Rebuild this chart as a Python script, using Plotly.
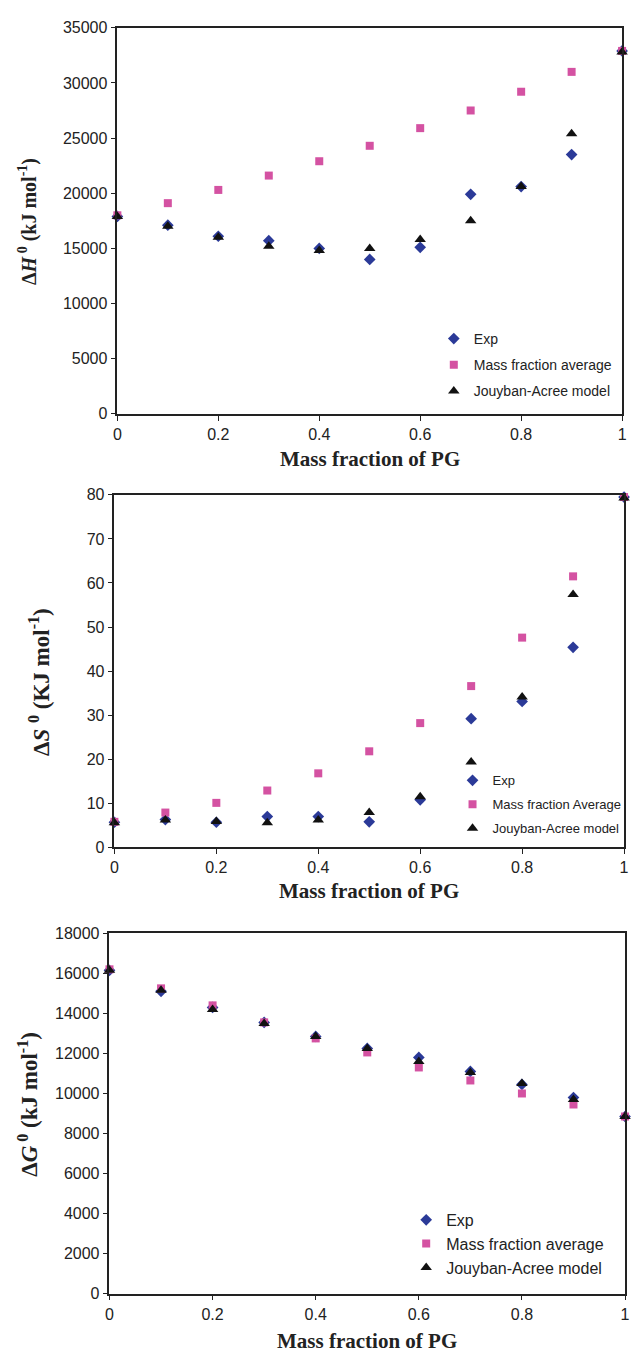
import plotly.graph_objects as go

W, H = 633, 1360

x_frac = [0, 0.1, 0.2, 0.3, 0.4, 0.5, 0.6, 0.7, 0.8, 0.9, 1.0]

# Chart 1: Delta H
dH_exp = [17900, 17100, 16100, 15700, 15000, 14000, 15100, 19900, 20600, 23500, 32900]
dH_mfa = [18000, 19100, 20300, 21600, 22900, 24300, 25900, 27500, 29200, 31000, 32900]
dH_ja = [17900, 17000, 16000, 15200, 14800, 15000, 15800, 17500, 20600, 25400, 32800]

# Chart 2: Delta S
dS_exp = [5.7, 6.3, 5.7, 7.0, 7.0, 5.8, 10.8, 29.2, 33.1, 45.4, 79.5]
dS_mfa = [5.8, 7.9, 10.1, 12.9, 16.8, 21.8, 28.2, 36.6, 47.6, 61.5, 79.5]
dS_ja = [5.6, 6.2, 5.9, 5.6, 6.2, 7.9, 11.5, 19.4, 34.1, 57.4, 79.3]

# Chart 3: Delta G
dG_exp = [16150, 15100, 14300, 13550, 12850, 12250, 11800, 11100, 10450, 9800, 8850]
dG_mfa = [16200, 15250, 14400, 13550, 12750, 12050, 11300, 10650, 10000, 9450, 8850]
dG_ja = [16150, 15150, 14200, 13500, 12850, 12250, 11600, 11050, 10500, 9700, 8850]

legend_names_1 = ["Exp", "Mass fraction average", "Jouyban-Acree model"]
legend_names_2 = ["Exp", "Mass fraction Average", "Jouyban-Acree model"]
legend_names_3 = ["Exp", "Mass fraction average", "Jouyban-Acree model"]

BLUE = "#2B3A98"
PINK = "#D452A2"
BLACK = "#111111"
SANS = "Liberation Sans, Arial, sans-serif"
SERIF = "Liberation Serif, Times New Roman, serif"
AX = "#222222"

fig = go.Figure()

def add_set(idx, ys, names, leg):
    sfx = "" if idx == 1 else str(idx)
    styles = [("diamond", 9, BLUE), ("square", 8, PINK), ("triangle-up", 10, BLACK)]
    for k, (y, nm, (sym, sz, col)) in enumerate(zip(ys, names, styles)):
        fig.add_trace(go.Scatter(
            x=x_frac, y=y, mode="markers", name=nm,
            marker=dict(symbol=sym, size=sz, color=col, line=dict(width=0)),
            xaxis="x" + sfx, yaxis="y" + sfx, legend=leg,
            legendgroup=f"g{idx}_{k}", cliponaxis=False, showlegend=True,
        ))

add_set(1, [dH_exp, dH_mfa, dH_ja], legend_names_1, "legend")
add_set(2, [dS_exp, dS_mfa, dS_ja], legend_names_2, "legend2")
add_set(3, [dG_exp, dG_mfa, dG_ja], legend_names_3, "legend3")

def px_x(p):
    return p / W

def px_y(p):
    return 1 - p / H

def xaxis(left, right, anchor):
    return dict(domain=[px_x(left), px_x(right)], range=[0, 1], dtick=0.2, tick0=0,
                showline=True, linecolor=AX, linewidth=1.5, mirror=True,
                ticks="outside", ticklen=5, tickcolor=AX, tickwidth=1.2,
                showgrid=False, zeroline=False, anchor=anchor,
                tickfont=dict(family=SANS, size=16, color=AX))

def yaxis(top, bottom, rng, dt, anchor):
    return dict(domain=[px_y(bottom), px_y(top)], range=rng, dtick=dt, tick0=0,
                showline=True, linecolor=AX, linewidth=1.5, mirror=True,
                ticks="outside", ticklen=5, tickcolor=AX, tickwidth=1.2,
                showgrid=False, zeroline=False, anchor=anchor, tickformat="d",
                tickfont=dict(family=SANS, size=16, color=AX))

def legend(xp, yp, size, gap):
    return dict(x=px_x(xp), y=px_y(yp), xanchor="left", yanchor="top",
                bgcolor="rgba(0,0,0,0)", borderwidth=0, tracegroupgap=gap,
                font=dict(family=SANS, size=size, color=AX))

fig.update_layout(
    width=W, height=H, margin=dict(l=0, r=0, t=0, b=0),
    paper_bgcolor="white", plot_bgcolor="white",
    xaxis=xaxis(115, 627, "y"), yaxis=yaxis(20, 411, [0, 35000], 5000, "x"),
    xaxis2=xaxis(112, 629, "y2"), yaxis2=yaxis(493, 850, [0, 80], 10, "x2"),
    xaxis3=xaxis(107, 630, "y3"), yaxis3=yaxis(937, 1302, [0, 18000], 2000, "x3"),
    legend=legend(436, 319, 14, 5),
    legend2=legend(455, 767, 13, 4),
    legend3=legend(408, 1210, 16, 0),
)

annots = [
    ("Mass fraction of PG", 371, 457, 0, 21),
    ("Mass fraction of PG", 370, 894, 0, 21),
    ("Mass fraction of PG", 368, 1350, 0, 21),
    ("Δ<i>H</i><sup> 0</sup> (kJ mol<sup>-1</sup>)", 24, 216, -90, 20),
    ("Δ<i>S</i> <sup>0</sup> (KJ mol<sup>-1</sup>)", 36, 682, -90, 23),
    ("Δ<i>G</i><sup> 0</sup> (kJ mol<sup>-1</sup>)", 24, 1110, -90, 23),
]
for txt, xp, yp, ang, sz in annots:
    fig.add_annotation(text="<b>" + txt + "</b>", x=px_x(xp), y=px_y(yp), xref="paper", yref="paper",
                       showarrow=False, textangle=ang, xanchor="center", yanchor="middle",
                       font=dict(family=SERIF, size=sz, color=AX))

fig.write_html("out.html", config={"displayModeBar": False},
               post_script="document.body.style.margin='0';document.body.style.overflow='hidden';")
